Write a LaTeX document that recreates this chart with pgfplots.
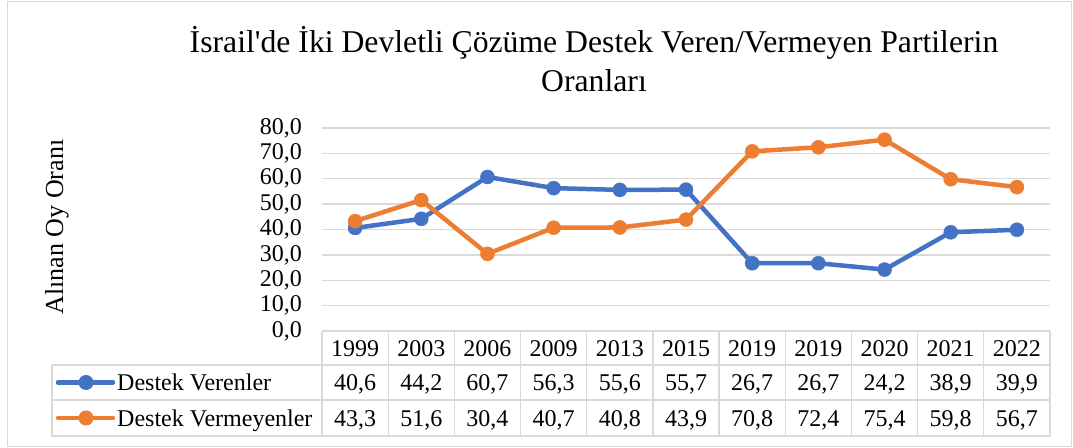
\documentclass[border=0pt]{standalone}
\usepackage{fontspec}
\setmainfont{Liberation Serif}
\usepackage{pgfplots}
\usepackage{pgfplotstable}
\pgfplotsset{compat=1.18}
\definecolor{cblue}{HTML}{4472C4}
\definecolor{corange}{HTML}{ED7D31}
\definecolor{cgrid}{HTML}{D9D9D9}
\newcommand{\tabfont}{\fontsize{24bp}{28bp}\selectfont}
\newcommand{\titlefont}{\fontsize{31.7bp}{39bp}\selectfont}
\pgfplotstableread{
idx year ver vermey
0 1999 40.6 43.3
1 2003 44.2 51.6
2 2006 60.7 30.4
3 2009 56.3 40.7
4 2013 55.6 40.8
5 2015 55.7 43.9
6 2019 26.7 70.8
7 2019 26.7 72.4
8 2020 24.2 75.4
9 2021 38.9 59.8
10 2022 39.9 56.7
}\data
\begin{document}
\begin{tikzpicture}[x=1bp,y=1bp]
\useasboundingbox (0,0) rectangle (1073,448);
\fill[white] (0,0) rectangle (1073,448);
\draw[cgrid, line width=1.2bp] (7.5,1.5) rectangle (1071.5,446.5);
% title
\node[font=\titlefont, anchor=base, inner sep=0pt] at (594,395) {İsrail\textquotesingle de İki Devletli Çözüme Destek Veren/Vermeyen Partilerin};
\node[font=\titlefont, anchor=base, inner sep=0pt] at (594,356) {Oranları};
% y label
\node[font=\fontsize{26bp}{30bp}\selectfont, rotate=90, anchor=center] at (57,221) {Alınan Oy Oranı};
\begin{axis}[
  at={(322bp,117bp)}, anchor=south west,
  width=728bp, height=203bp, scale only axis,
  xmin=-0.5, xmax=10.5, ymin=0, ymax=80,
  clip=false,
  axis line style={draw=none},
  major tick style={draw=none},
  xtick=\empty,
  ytick={0,10,...,80},
  ymajorgrids,
  grid style={cgrid, line width=1.3bp},
  yticklabel style={font=\tabfont, anchor=east, inner sep=0pt, xshift=-20bp,
    /pgf/number format/.cd, fixed, fixed zerofill, precision=1, use comma, assume math mode=true},
]
\addplot[cblue, line width=4.5bp, mark=*, mark size=7bp, mark options={fill=cblue, draw=cblue, line width=0.5bp}] table[x=idx, y=ver] {\data};
\addplot[corange, line width=4.5bp, mark=*, mark size=7bp, mark options={fill=corange, draw=corange, line width=0.5bp}] table[x=idx, y=vermey] {\data};
\end{axis}
% data table grid
\begin{scope}[cgrid, line width=1.3bp]
\draw (322,117) -- (1050,117);
\draw (52,83) -- (1050,83);
\draw (52,48) -- (1050,48);
\draw (52,12) -- (1050,12);
\draw (52,83) -- (52,12);
\foreach \k in {0,...,11} {\draw ({322+66.1818*\k},117) -- ({322+66.1818*\k},12);}
\end{scope}
% legend keys
\draw[cblue, line width=4.5bp, line cap=round] (58,65.5) -- (113,65.5);
\fill[cblue] (86,65.5) circle (7.5);
\draw[corange, line width=4.5bp, line cap=round] (58,30) -- (113,30);
\fill[corange] (86,30) circle (7.5);
\node[font=\tabfont, anchor=base west, inner sep=0pt] at (117,57) {Destek Verenler};
\node[font=\tabfont, anchor=base west, inner sep=0pt] at (117,21.5) {Destek Vermeyenler};
% table values
\foreach \i in {0,...,10} {
  \pgfplotstablegetelem{\i}{year}\of\data
  \node[font=\tabfont, anchor=base, inner sep=0pt] at ({322+66.1818*(\i+0.5)},91.5) {\pgfplotsretval};
  \pgfplotstablegetelem{\i}{ver}\of\data
  \node[font=\tabfont, anchor=base, inner sep=0pt] at ({322+66.1818*(\i+0.5)},57) {\pgfmathprintnumber[fixed, fixed zerofill, precision=1, use comma, assume math mode=true]{\pgfplotsretval}};
  \pgfplotstablegetelem{\i}{vermey}\of\data
  \node[font=\tabfont, anchor=base, inner sep=0pt] at ({322+66.1818*(\i+0.5)},21.5) {\pgfmathprintnumber[fixed, fixed zerofill, precision=1, use comma, assume math mode=true]{\pgfplotsretval}};
}
\end{tikzpicture}
\end{document}
